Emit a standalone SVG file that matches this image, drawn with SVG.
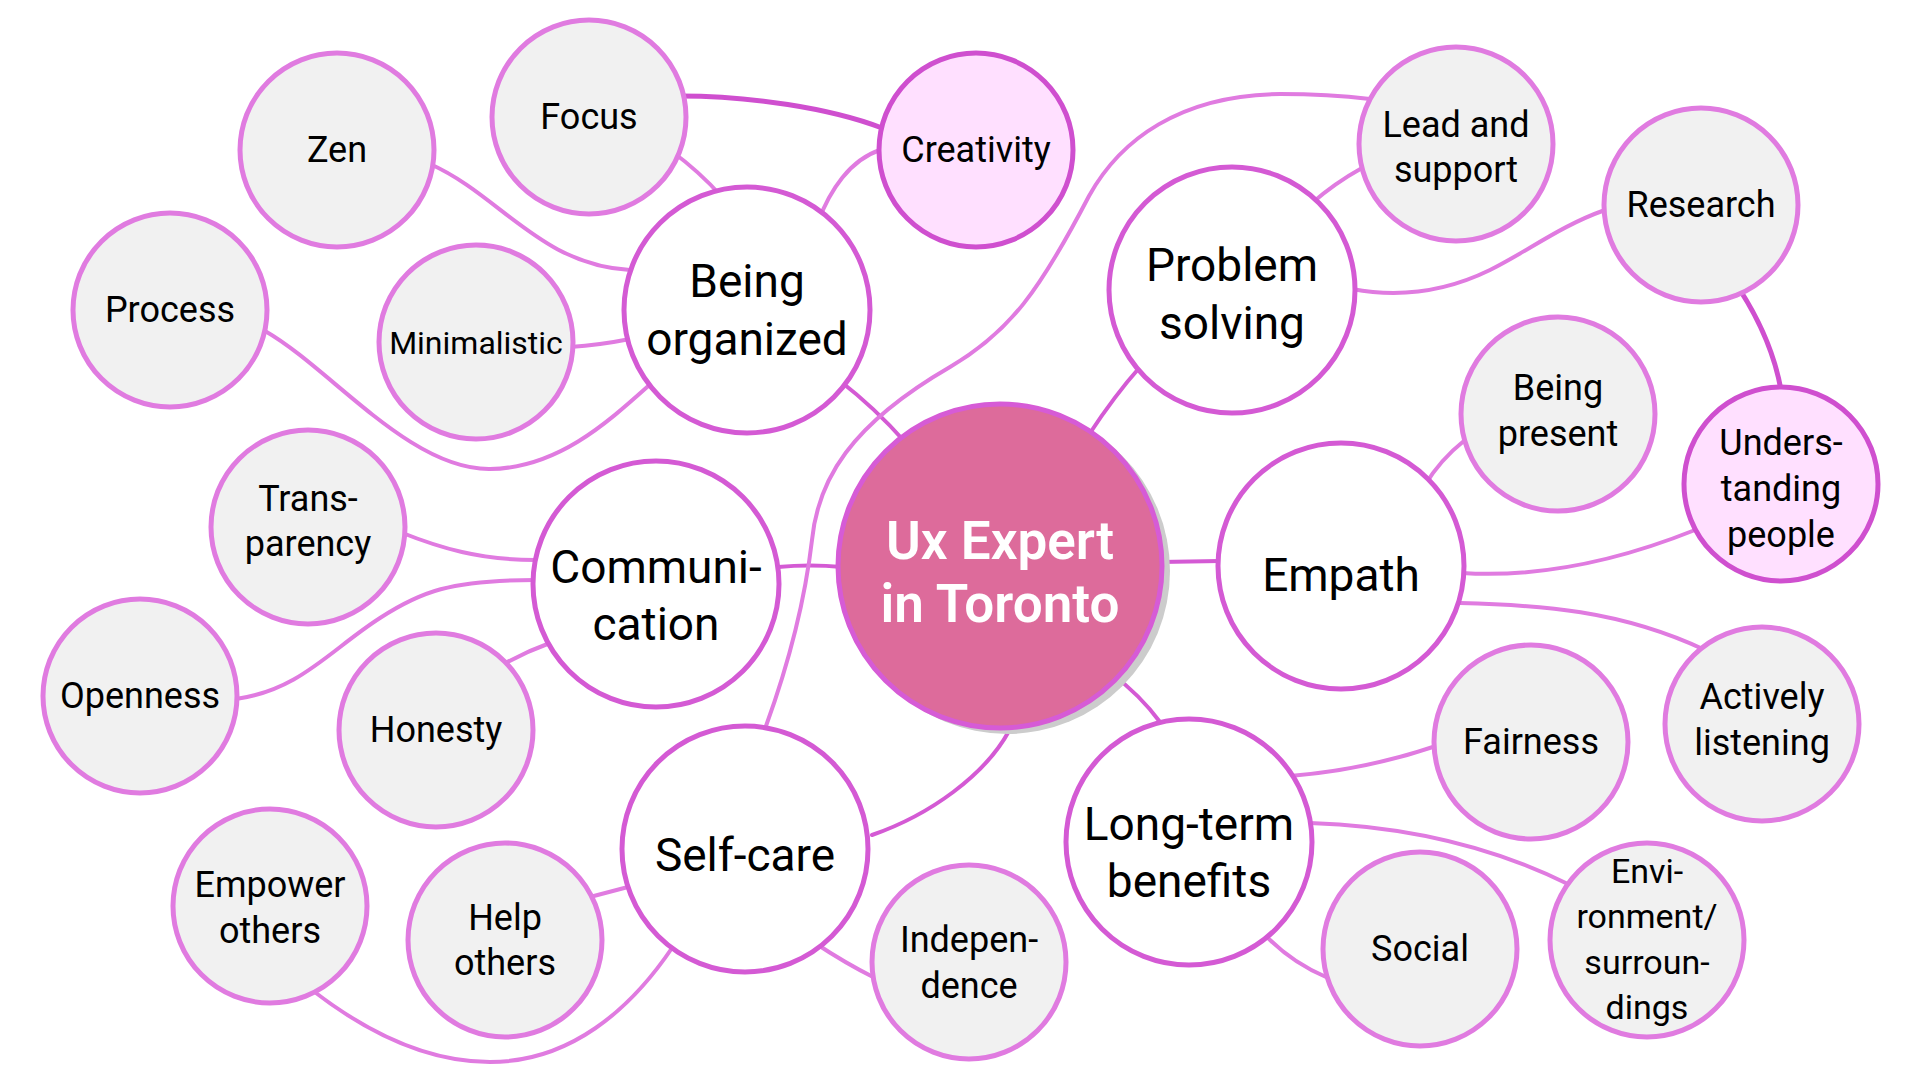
<svg xmlns="http://www.w3.org/2000/svg" width="1920" height="1080" viewBox="0 0 1920 1080">
<style>
.s circle{fill:#f1f1f1;stroke:#e07be0;stroke-width:5}
.b circle{fill:#ffffff;stroke:#d45ad4;stroke-width:5}
.h circle{fill:#ffe0ff;stroke:#cf4fcf;stroke-width:5}
.c circle.m{fill:#dd6b9b;stroke:#d65bd6;stroke-width:5}
text{font-family:Roboto,"Noto Sans",sans-serif;text-anchor:middle;fill:#000}
.s text,.h text{font-size:36px}
.b text{font-size:46px}
.c text{font-size:53px;font-weight:600;fill:#ffffff}
#links path{fill:none;stroke-width:4;stroke-linecap:round}
#links .d{stroke:#d45ad4}
#links .l{stroke:#e07be0}
#links .x{stroke:#cf4fcf;stroke-width:5}
</style>
<rect width="1920" height="1080" fill="#ffffff"/>
<g id="links">
<path class="d" d="M840,381 Q875,408 905,442"/>
<path class="d" d="M1140,367 Q1115,395 1088,436"/>
<path class="d" d="M778,567 Q810,564 842,567"/>
<path class="d" d="M1160,562 L1220,561"/>
<path class="d" d="M1112,674 Q1140,695 1160,722"/>
<path class="d" d="M1009,731 C985,775 930,815 872,835"/>
<path class="l" d="M670,150 Q700,172 722,197"/>
<path class="l" d="M430,164 C500,195 540,265 630,270"/>
<path class="l" d="M570,347 Q600,345 630,339"/>
<path class="l" d="M265,331 C330,368 410,470 490,469 C560,468 610,420 655,380"/>
<path class="l" d="M818,222 C830,190 850,160 880,150"/>
<path class="x" d="M680,96 C750,96 830,108 882,128"/>
<path class="l" d="M400,532 C440,548 480,560 535,560"/>
<path class="l" d="M236,699 C300,690 330,650 380,618 C420,592 450,580 535,580"/>
<path class="l" d="M500,666 Q525,652 550,643"/>
<path class="l" d="M590,897 L628,887"/>
<path class="l" d="M312,990 C370,1035 430,1062 490,1062 C570,1062 630,1010 672,948"/>
<path class="l" d="M815,943 Q845,963 875,978"/>
<path class="l" d="M766,726 C790,660 805,600 812,540 C818,480 850,425 950,367 C1010,332 1040,290 1089,196 C1120,140 1180,95 1280,94 C1320,94 1345,96 1370,99"/>
<path class="l" d="M1312,203 Q1335,183 1362,168"/>
<path class="l" d="M1352,289 C1400,298 1445,292 1490,270 C1530,250 1560,226 1605,210"/>
<path class="x" d="M1740,290 Q1772,340 1781,390"/>
<path class="l" d="M1425,485 Q1440,460 1465,440"/>
<path class="l" d="M1462,573 C1540,578 1620,560 1695,530"/>
<path class="l" d="M1460,603 C1540,605 1620,610 1705,650"/>
<path class="l" d="M1290,776 Q1365,770 1436,746"/>
<path class="l" d="M1310,823 C1400,826 1490,845 1570,885"/>
<path class="l" d="M1262,932 Q1290,962 1326,977"/>
</g>
<g id="central" class="c">
<circle cx="1007" cy="571" r="163" fill="#cccccc"/>
<circle class="m" cx="1000" cy="566" r="162"/>
<text x="1000" y="559">Ux Expert</text>
<text x="1000" y="622">in Toronto</text>
</g>
<g id="being-organized" class="b"><circle cx="747" cy="310" r="123"/><text x="747" y="297">Being</text><text x="747" y="355">organized</text></g>
<g id="problem-solving" class="b"><circle cx="1232" cy="290" r="123"/><text x="1232" y="281">Problem</text><text x="1232" y="339">solving</text></g>
<g id="communication" class="b"><circle cx="656" cy="584" r="123"/><text x="656" y="583">Communi-</text><text x="656" y="640">cation</text></g>
<g id="empath" class="b"><circle cx="1341" cy="566" r="123"/><text x="1341" y="591">Empath</text></g>
<g id="self-care" class="b"><circle cx="745" cy="849" r="123"/><text x="745" y="871">Self-care</text></g>
<g id="long-term-benefits" class="b"><circle cx="1189" cy="842" r="123"/><text x="1189" y="840">Long-term</text><text x="1189" y="897">benefits</text></g>
<g id="zen" class="s"><circle cx="337" cy="150" r="97"/><text x="337" y="162">Zen</text></g>
<g id="focus" class="s"><circle cx="589" cy="117" r="97"/><text x="589" y="129">Focus</text></g>
<g id="process" class="s"><circle cx="170" cy="310" r="97"/><text x="170" y="322">Process</text></g>
<g id="minimalistic" class="s"><circle cx="476" cy="342" r="97"/><text x="476" y="354" style="font-size:32px">Minimalistic</text></g>
<g id="creativity" class="h"><circle cx="976" cy="150" r="97"/><text x="976" y="162">Creativity</text></g>
<g id="transparency" class="s"><circle cx="308" cy="527" r="97"/><text x="308" y="511">Trans-</text><text x="308" y="556">parency</text></g>
<g id="openness" class="s"><circle cx="140" cy="696" r="97"/><text x="140" y="708">Openness</text></g>
<g id="honesty" class="s"><circle cx="436" cy="730" r="97"/><text x="436" y="742">Honesty</text></g>
<g id="empower-others" class="s"><circle cx="270" cy="906" r="97"/><text x="270" y="897">Empower</text><text x="270" y="943">others</text></g>
<g id="help-others" class="s"><circle cx="505" cy="940" r="97"/><text x="505" y="930">Help</text><text x="505" y="975">others</text></g>
<g id="independence" class="s"><circle cx="969" cy="962" r="97"/><text x="969" y="952">Indepen-</text><text x="969" y="998">dence</text></g>
<g id="lead-and-support" class="s"><circle cx="1456" cy="144" r="97"/><text x="1456" y="137">Lead and</text><text x="1456" y="182">support</text></g>
<g id="research" class="s"><circle cx="1701" cy="205" r="97"/><text x="1701" y="217">Research</text></g>
<g id="being-present" class="s"><circle cx="1558" cy="414" r="97"/><text x="1558" y="400">Being</text><text x="1558" y="446">present</text></g>
<g id="understanding-people" class="h"><circle cx="1781" cy="484" r="97"/><text x="1781" y="455">Unders-</text><text x="1781" y="501">tanding</text><text x="1781" y="547">people</text></g>
<g id="actively-listening" class="s"><circle cx="1762" cy="724" r="97"/><text x="1762" y="709">Actively</text><text x="1762" y="755">listening</text></g>
<g id="fairness" class="s"><circle cx="1531" cy="742" r="97"/><text x="1531" y="754">Fairness</text></g>
<g id="social" class="s"><circle cx="1420" cy="949" r="97"/><text x="1420" y="961">Social</text></g>
<g id="environment" class="s"><circle cx="1647" cy="940" r="97"/><text x="1647" y="883" style="font-size:34px">Envi-</text><text x="1647" y="928" style="font-size:34px">ronment/</text><text x="1647" y="974" style="font-size:34px">surroun-</text><text x="1647" y="1019" style="font-size:34px">dings</text></g>
</svg>
